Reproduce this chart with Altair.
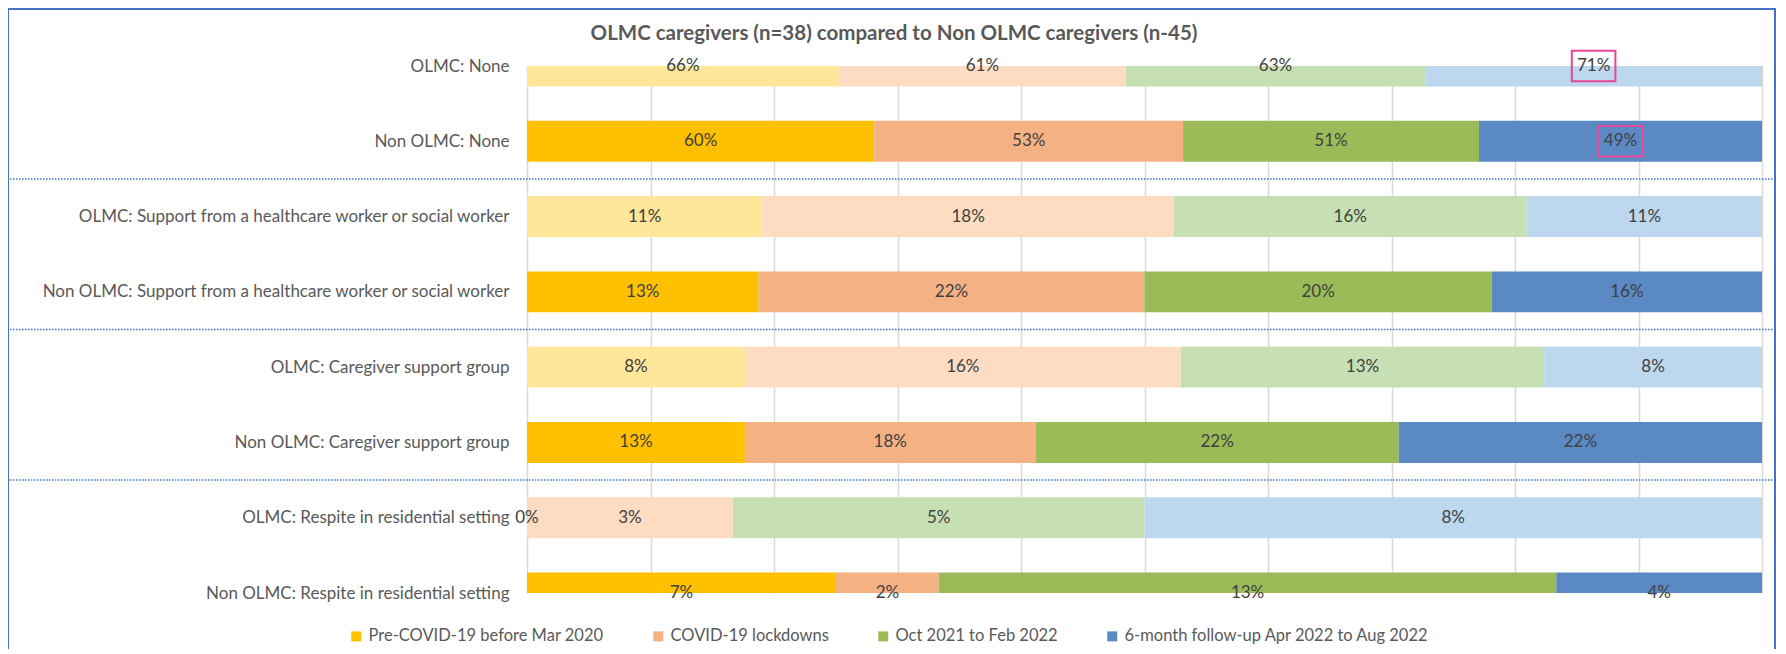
import json
import altair as alt
import pandas as pd

# ---------------- data ----------------
categories = [
    "OLMC: None",
    "Non OLMC: None",
    "OLMC: Support from a healthcare worker or social worker",
    "Non OLMC: Support from a healthcare worker or social worker",
    "OLMC: Caregiver support group",
    "Non OLMC: Caregiver support group",
    "OLMC: Respite in residential setting",
    "Non OLMC: Respite in residential setting",
]
periods = [
    "Pre-COVID-19 before Mar 2020",
    "COVID-19 lockdowns",
    "Oct 2021 to Feb 2022",
    "6-month follow-up Apr 2022 to Aug 2022",
]
pre_covid = [65.79, 60.00, 10.53, 13.33, 7.89, 13.33, 0.00, 6.67]
lockdowns = [60.53, 53.33, 18.42, 22.22, 15.79, 17.78, 2.63, 2.22]
oct_feb = [63.16, 51.11, 15.79, 20.00, 13.16, 22.22, 5.26, 13.33]
follow_up = [71.05, 48.89, 10.53, 15.56, 7.89, 22.22, 7.89, 4.44]

# labels highlighted with a box in the original
highlight_cats = ["OLMC: None", "Non OLMC: None"]
highlight_period = "6-month follow-up Apr 2022 to Aug 2022"

title_text = "OLMC caregivers (n=38) compared to Non OLMC caregivers (n-45)"

colors_non = ["#FFC000", "#F4B183", "#9BBB59", "#5B89C3"]
colors_olmc = ["#FFE699", "#FDDCC1", "#C6E0B4", "#BDD7EE"]

series = [pre_covid, lockdowns, oct_feb, follow_up]
rows = []
for i, cat in enumerate(categories):
    is_olmc = cat.startswith("OLMC")
    for j, p in enumerate(periods):
        rows.append({
            "cat": cat, "idx": i, "period": p, "order": j,
            "value": series[j][i],
            "ckey": p + (" (OLMC)" if is_olmc else ""),
            "hl": (cat in highlight_cats) and (p == highlight_period),
        })
df = pd.DataFrame(rows)

olmc_keys = [p + " (OLMC)" for p in periods]
seps = pd.DataFrame({"sep": [i + 0.5 for i in range(1, len(categories) - 1, 2)]})

# ---------------- layout ----------------
W, H = 1235, 527
HALF = 0.272
FONT = "Lato"
GREY = "#595959"
FS = 17

xscale = alt.Scale(domain=[0, 1], nice=False, zero=True)
yscale = alt.Scale(domain=[0, len(categories) - 1], reverse=True, nice=False, zero=False)

xaxis = alt.Axis(values=[k / 10 for k in range(11)], labels=False, ticks=False, domain=False,
                 grid=True, gridColor="#D9D9D9", gridWidth=1.5, title=None)
yaxis = alt.Axis(values=list(range(len(categories))),
                 labelExpr=json.dumps(categories) + "[datum.value]",
                 ticks=False, domain=False, grid=False, title=None, labelLimit=0,
                 labelPadding=18, labelFont=FONT, labelFontSize=FS, labelColor=GREY)

base = alt.Chart(df).transform_stack(
    as_=["x0", "x1"], stack="value", groupby=["cat"], offset="normalize",
    sort=[alt.SortField("order")],
).transform_calculate(
    y0=f"datum.idx - {HALF}",
    y1=f"datum.idx + {HALF}",
    xm="(datum.x0 + datum.x1) / 2",
    label="format(datum.value, '.0f') + '%'",
)

bars = base.mark_bar(clip=True, strokeWidth=0).encode(
    x=alt.X("x0:Q", scale=xscale, axis=xaxis),
    x2="x1:Q",
    y=alt.Y("y0:Q", scale=yscale, axis=yaxis),
    y2="y1:Q",
    color=alt.Color(
        "ckey:N",
        scale=alt.Scale(domain=periods + olmc_keys, range=colors_non + colors_olmc),
        legend=alt.Legend(
            values=periods, orient="none", direction="horizontal", title=None,
            legendX=-179, legendY=562, symbolType="square", symbolSize=100,
            symbolStrokeWidth=0, labelFont=FONT, labelFontSize=16.5, labelColor=GREY,
            columnPadding=46, labelOffset=4, labelLimit=0,
        ),
    ),
)

texts = base.mark_text(font=FONT, fontSize=FS, color="#404040").encode(
    x=alt.X("xm:Q", scale=xscale),
    y=alt.Y("idx:Q", scale=yscale),
    text="label:N",
)

boxes = base.transform_filter("datum.hl").mark_point(
    shape="M-1,-0.7H1V0.7H-1Z", size=1900, filled=False,
    stroke="#E8479A", strokeWidth=2, opacity=1,
).encode(
    x=alt.X("xm:Q", scale=xscale),
    y=alt.Y("idx:Q", scale=yscale),
)

rules = alt.Chart(seps).mark_rule(color="#4472C4", strokeWidth=1.5, strokeDash=[1.5, 1.5]).encode(
    y=alt.Y("sep:Q", scale=yscale),
    x=alt.value(-517),
    x2=alt.value(1253),
)

one = pd.DataFrame({"t": [title_text]})
border = alt.Chart(one).mark_rect(
    fill="transparent", stroke="#4472C4", strokeWidth=2
).encode(
    x=alt.value(-519), x2=alt.value(1248), y=alt.value(-57), y2=alt.value(700)
)

title = alt.Chart(one).mark_text(
    font=FONT, fontSize=20.5, fontWeight="bold", color=GREY, align="center", baseline="middle"
).encode(x=alt.value(367), y=alt.value(-32), text="t:N")

chart = alt.layer(border, bars, texts, boxes, rules, title).properties(
    width=W, height=H,
    autosize=alt.AutoSizeParams(type="none"),
    padding={"left": 519, "top": 58, "right": 14, "bottom": 56},
).configure_view(strokeWidth=0)

chart.save("out.html", embed_options={"renderer": "svg", "actions": False})
